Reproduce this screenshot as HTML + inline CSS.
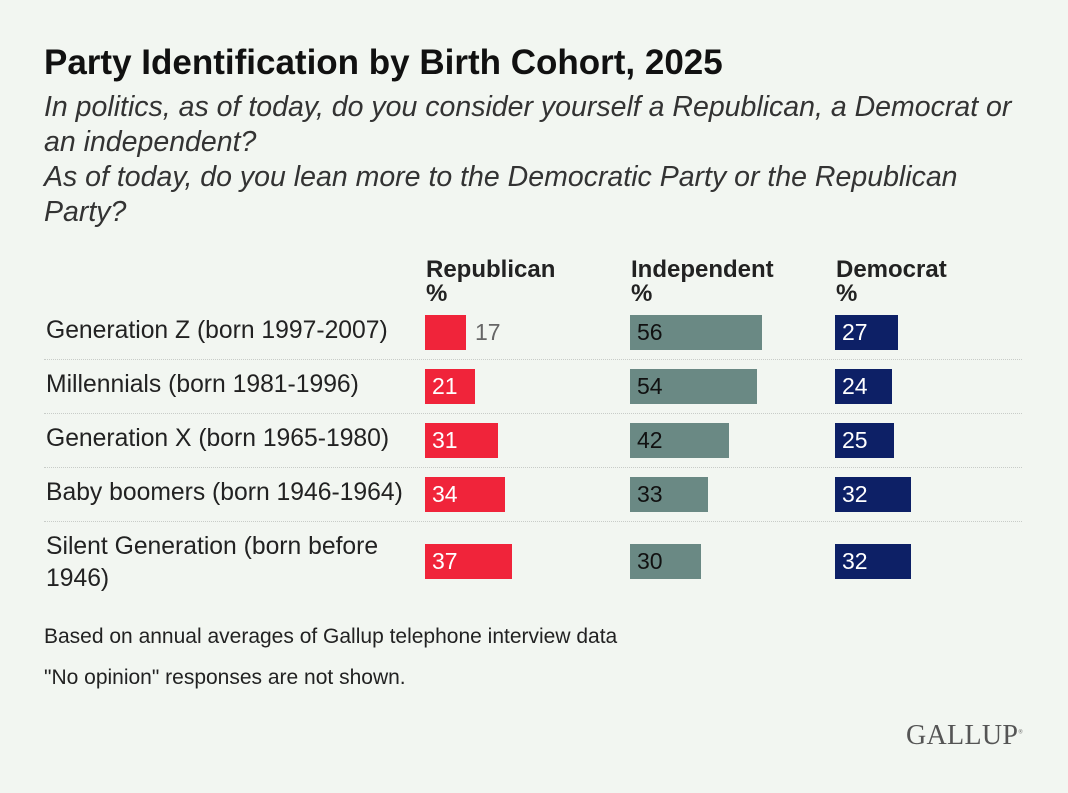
<!DOCTYPE html>
<html><head><meta charset="utf-8"><style>
body{margin:0;width:1068px;height:793px;background:#f2f6f1;font-family:"Liberation Sans",sans-serif;color:#222;position:relative;overflow:hidden}
.a{position:absolute;white-space:nowrap}
.t{left:44px;top:43px;font-size:35px;font-weight:bold;color:#111}
.s{left:44px;top:90px;font-size:28.5px;font-style:italic;line-height:35px;color:#333}
.h{font-size:24px;font-weight:bold;line-height:24px;top:258px;color:#222}
.l{left:46px;font-size:24.7px;color:#222}
.b{height:35px;font-size:23px;line-height:35px;padding-left:7px;box-sizing:border-box}
.r{background:#f0243a;color:#fff}.g{background:#6a8984;color:#111}.d{background:#0d2066;color:#fff}
.sep{left:44px;width:978px;border-top:1px dotted #c8ccc8;height:0}
.f{left:44px;font-size:21px;color:#222}
</style></head><body>
<div class="a t">Party Identification by Birth Cohort, 2025</div>
<div class="a s">In politics, as of today, do you consider yourself a Republican, a Democrat or<br>an independent?<br>As of today, do you lean more to the Democratic Party or the Republican<br>Party?</div>
<div class="a h" style="left:426px">Republican<br>%</div>
<div class="a h" style="left:631px">Independent<br>%</div>
<div class="a h" style="left:836px">Democrat<br>%</div>

<div class="a l" style="top:317px">Generation Z (born 1997-2007)</div>
<div class="a b r" style="left:425px;top:315px;width:41px"></div><div class="a" style="left:475px;top:319px;font-size:23px;color:#666">17</div>
<div class="a b g" style="left:630px;top:315px;width:132px">56</div>
<div class="a b d" style="left:835px;top:315px;width:63px">27</div>
<div class="a sep" style="top:359px"></div>

<div class="a l" style="top:371px">Millennials (born 1981-1996)</div>
<div class="a b r" style="left:425px;top:369px;width:50px">21</div>
<div class="a b g" style="left:630px;top:369px;width:127px">54</div>
<div class="a b d" style="left:835px;top:369px;width:57px">24</div>
<div class="a sep" style="top:413px"></div>

<div class="a l" style="top:425px">Generation X (born 1965-1980)</div>
<div class="a b r" style="left:425px;top:423px;width:73px">31</div>
<div class="a b g" style="left:630px;top:423px;width:99px">42</div>
<div class="a b d" style="left:835px;top:423px;width:59px">25</div>
<div class="a sep" style="top:467px"></div>

<div class="a l" style="top:479px">Baby boomers (born 1946-1964)</div>
<div class="a b r" style="left:425px;top:477px;width:80px">34</div>
<div class="a b g" style="left:630px;top:477px;width:78px">33</div>
<div class="a b d" style="left:835px;top:477px;width:76px">32</div>
<div class="a sep" style="top:521px"></div>

<div class="a l" style="top:531px;line-height:32px">Silent Generation (born before<br>1946)</div>
<div class="a b r" style="left:425px;top:544px;width:87px">37</div>
<div class="a b g" style="left:630px;top:544px;width:71px">30</div>
<div class="a b d" style="left:835px;top:544px;width:76px">32</div>

<div class="a f" style="top:625px">Based on annual averages of Gallup telephone interview data</div>
<div class="a f" style="top:666px">"No opinion" responses are not shown.</div>
<div class="a" style="left:906px;top:720px;font-family:'Liberation Serif',serif;font-size:28px;color:#555;letter-spacing:0.3px">GALLUP<sup style="font-size:6px">®</sup></div>
</body></html>
